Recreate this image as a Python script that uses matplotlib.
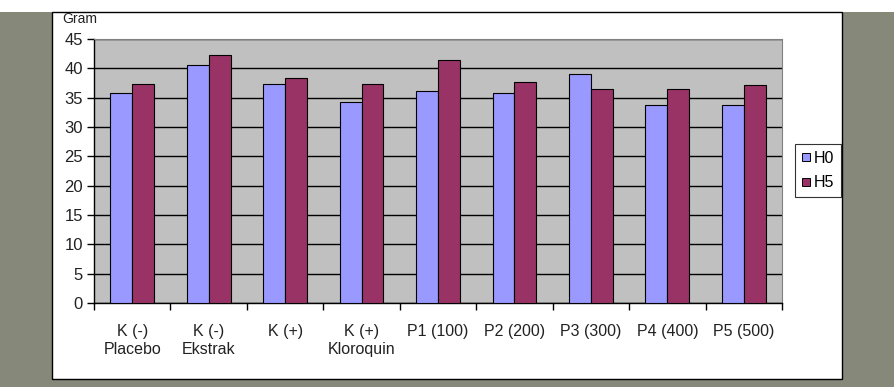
import numpy as np
import matplotlib.pyplot as plt
from matplotlib.patches import Rectangle
from matplotlib.lines import Line2D

plt.rcParams['font.family'] = ['Liberation Sans', 'DejaVu Sans']

kelompok = ['K (-)\nPlacebo', 'K (-)\nEkstrak', 'K (+)', 'K (+)\nKloroquin',
            'P1 (100)', 'P2 (200)', 'P3 (300)', 'P4 (400)', 'P5 (500)']
h0 = [35.8, 40.6, 37.3, 34.2, 36.2, 35.8, 39.0, 33.7, 33.7]
h5 = [37.3, 42.2, 38.3, 37.3, 41.5, 37.7, 36.4, 36.4, 37.1]

warna_h0 = '#9999FF'
warna_h5 = '#993366'

W, H = 894, 387
fig = plt.figure(figsize=(W / 100, H / 100), dpi=100)
fig.patch.set_facecolor('#868879')

# background layer: white strip on top and the white chart panel
bg = fig.add_axes([0, 0, 1, 1], zorder=-1)
bg.set_xlim(0, W)
bg.set_ylim(H, 0)
bg.axis('off')
bg.add_patch(Rectangle((0, 0), W, 12, facecolor='white', edgecolor='none'))
bg.add_patch(Rectangle((52, 12), 842 - 52, 379 - 12, facecolor='white',
                       edgecolor='black', linewidth=1.0))

ax = fig.add_axes([94 / W, 1 - 303 / H, (782 - 94) / W, (303 - 39) / H], zorder=1)
ax.set_facecolor('#C0C0C0')

x = np.arange(len(kelompok))
w = 1 / 3.5
ax.bar(x - w / 2, h0, w, color=warna_h0, edgecolor='black', linewidth=0.8, zorder=3)
ax.bar(x + w / 2, h5, w, color=warna_h5, edgecolor='black', linewidth=0.8, zorder=3)

ax.set_xlim(-0.5, len(kelompok) - 0.5)
ax.set_ylim(0, 45)
ax.set_yticks(np.arange(0, 46, 5))
ax.yaxis.grid(True, color='black', linewidth=1.0, zorder=1)
ax.set_axisbelow(True)

ax.set_xticks(np.arange(-0.5, len(kelompok)), minor=False)
ax.set_xticklabels([])
ax.set_xticks(x, minor=True)
ax.set_xticklabels(kelompok, minor=True, fontsize=11.5, color='#222222', linespacing=1.3)
ax.tick_params(axis='x', which='minor', length=0, pad=15)
ax.tick_params(axis='x', which='major', length=5, width=1, color='black', direction='out')
ax.tick_params(axis='y', length=5, width=1, labelsize=12, labelcolor='#222222', pad=3)
for lab in ax.get_xticklabels(minor=True):
    lab.set_verticalalignment('top')

for s in ['top', 'right']:
    ax.spines[s].set_color('#808080')
for s in ['left', 'bottom']:
    ax.spines[s].set_color('black')
    ax.spines[s].set_linewidth(1.0)

fig.text(62 / W, 1 - 19 / H, 'Gram', fontsize=10, color='#222222', va='center', ha='left')

handles = [Line2D([], [], marker='s', linestyle='none', markersize=6,
                  markerfacecolor=c, markeredgecolor='black', markeredgewidth=0.7)
           for c in (warna_h0, warna_h5)]
leg = ax.legend(handles, ['H0', 'H5'], loc='center left',
                bbox_to_anchor=(795 / W, 1 - 170.5 / H),
                bbox_transform=fig.transFigure,
                frameon=True, fancybox=False, fontsize=11.5, handlelength=0.6,
                handletextpad=0.2, borderpad=0.4,
                labelspacing=0.6, borderaxespad=0)
leg.get_frame().set_edgecolor('black')
leg.get_frame().set_linewidth(0.8)

fig.savefig('out.png', dpi=100, facecolor=fig.get_facecolor())
